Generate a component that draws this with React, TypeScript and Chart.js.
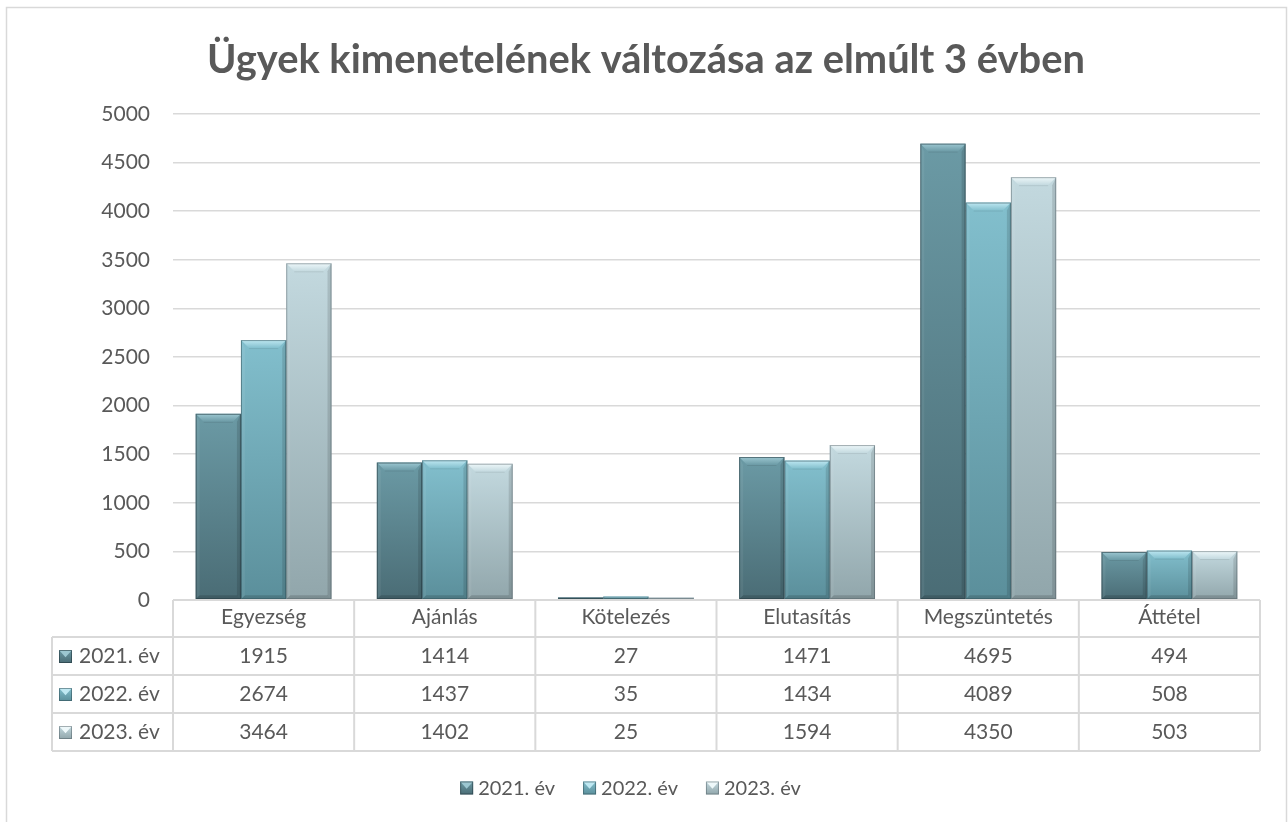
import React, { useEffect, useRef } from 'react';
import { Chart, registerables } from 'chart.js';

Chart.register(...registerables);

const titleText = 'Ügyek kimenetelének változása az elmúlt 3 évben';
const categories = ['Egyezség', 'Ajánlás', 'Kötelezés', 'Elutasítás', 'Megszüntetés', 'Áttétel'];
const seriesLabels = ['2021. év', '2022. év', '2023. év'];
const values2021 = [1915, 1414, 27, 1471, 4695, 494];
const values2022 = [2674, 1437, 35, 1434, 4089, 508];
const values2023 = [3464, 1402, 25, 1594, 4350, 503];
const yMin = 0;
const yMax = 5000;
const yStep = 500;

const seriesValues = [values2021, values2022, values2023];

const FONT = 'Lato, "Open Sans", sans-serif';
const TEXT = '#595959';
const LINE = '#d9d9d9';

const palette = [
  { top: '#6b9aa5', bottom: '#4a6c75', bevel: '#9cc7d1', edge: 'rgba(30,50,56,0.55)' },
  { top: '#82bfcd', bottom: '#5b8f9b', bevel: '#bfe8f2', edge: 'rgba(40,70,78,0.5)' },
  { top: '#c3d9df', bottom: '#91a6ab', bevel: '#eef8fa', edge: 'rgba(70,85,90,0.45)' },
];

function drawIcon(ctx: CanvasRenderingContext2D, x: number, y: number, s: number, p: any) {
  const g = ctx.createLinearGradient(0, y, 0, y + s);
  g.addColorStop(0, p.top);
  g.addColorStop(1, p.bottom);
  ctx.fillStyle = g;
  ctx.fillRect(x, y, s, s);
  ctx.fillStyle = p.bevel;
  ctx.beginPath();
  ctx.moveTo(x, y);
  ctx.lineTo(x + s, y);
  ctx.lineTo(x + s / 2, y + s * 0.55);
  ctx.closePath();
  ctx.fill();
  ctx.strokeStyle = p.edge;
  ctx.lineWidth = 1;
  ctx.strokeRect(x + 0.5, y + 0.5, s - 1, s - 1);
}

const framePlugin = {
  id: 'frameAndTitle',
  beforeDraw(chart: any) {
    const ctx = chart.ctx as CanvasRenderingContext2D;
    ctx.save();
    ctx.fillStyle = '#ffffff';
    ctx.fillRect(0, 0, chart.width, chart.height);
    ctx.strokeStyle = LINE;
    ctx.lineWidth = 1.5;
    ctx.strokeRect(6.5, 7.5, 1280, 840);
    ctx.font = `bold 100px ${FONT}`;
    const w = ctx.measureText(titleText).width;
    const size = (100 * 878) / w;
    ctx.font = `bold ${size.toFixed(2)}px ${FONT}`;
    ctx.fillStyle = TEXT;
    ctx.textAlign = 'center';
    ctx.textBaseline = 'alphabetic';
    ctx.fillText(titleText, 646, 73);
    ctx.restore();
  },
};

const bevelPlugin = {
  id: 'bevel',
  afterDatasetsDraw(chart: any) {
    const ctx = chart.ctx as CanvasRenderingContext2D;
    ctx.save();
    chart.data.datasets.forEach((ds: any, di: number) => {
      const meta = chart.getDatasetMeta(di);
      const p = palette[di];
      meta.data.forEach((el: any) => {
        const { x, y, base, width } = el.getProps(['x', 'y', 'base', 'width'], true);
        const x0 = x - width / 2;
        const x1 = x + width / 2;
        const top = Math.min(y, base);
        const bot = Math.max(y, base);
        const h = bot - top;
        if (h <= 0) return;
        const b = Math.min(8, h / 2, width / 2);
        const gt = ctx.createLinearGradient(0, top, 0, top + b);
        gt.addColorStop(0, p.bevel);
        gt.addColorStop(1, p.top);
        ctx.fillStyle = gt;
        ctx.beginPath();
        ctx.moveTo(x0, top);
        ctx.lineTo(x1, top);
        ctx.lineTo(x1 - b, top + b);
        ctx.lineTo(x0 + b, top + b);
        ctx.closePath();
        ctx.fill();
        const bs = Math.min(4, b);
        ctx.fillStyle = 'rgba(255,255,255,0.06)';
        ctx.beginPath();
        ctx.moveTo(x0, top);
        ctx.lineTo(x0 + bs, top + b);
        ctx.lineTo(x0 + bs, bot - bs);
        ctx.lineTo(x0, bot);
        ctx.closePath();
        ctx.fill();
        ctx.fillStyle = 'rgba(0,0,0,0.12)';
        ctx.beginPath();
        ctx.moveTo(x1, top);
        ctx.lineTo(x1 - bs, top + b);
        ctx.lineTo(x1 - bs, bot - bs);
        ctx.lineTo(x1, bot);
        ctx.closePath();
        ctx.fill();
        ctx.fillStyle = 'rgba(0,0,0,0.15)';
        ctx.beginPath();
        ctx.moveTo(x0, bot);
        ctx.lineTo(x0 + bs, bot - bs);
        ctx.lineTo(x1 - bs, bot - bs);
        ctx.lineTo(x1, bot);
        ctx.closePath();
        ctx.fill();
        ctx.strokeStyle = 'rgba(0,0,0,0.08)';
        ctx.lineWidth = 1;
        ctx.beginPath();
        ctx.moveTo(x0 + b, top + b + 0.5);
        ctx.lineTo(x1 - b, top + b + 0.5);
        ctx.stroke();
        ctx.strokeStyle = p.edge;
        ctx.lineWidth = 1;
        ctx.strokeRect(x0 + 0.5, top + 0.5, width - 1, h - 1);
      });
    });
    ctx.restore();
  },
};

const tablePlugin = {
  id: 'dataTable',
  afterDraw(chart: any) {
    const ctx = chart.ctx as CanvasRenderingContext2D;
    const xs = chart.scales.x;
    const left = chart.chartArea.left;
    const right = chart.chartArea.right;
    const top = chart.chartArea.bottom;
    const n = categories.length;
    const cw = (right - left) / n;
    const headerBottom = top + 37;
    const rowH = 38;
    const tableLeft = 52;
    const bottom = headerBottom + rowH * seriesLabels.length;
    ctx.save();
    ctx.strokeStyle = LINE;
    ctx.lineWidth = 2;
    ctx.beginPath();
    ctx.moveTo(left, top);
    ctx.lineTo(right, top);
    for (let r = 0; r <= seriesLabels.length; r++) {
      const yy = headerBottom + r * rowH;
      ctx.moveTo(tableLeft, yy);
      ctx.lineTo(right, yy);
    }
    for (let i = 0; i <= n; i++) {
      const xx = left + i * cw;
      ctx.moveTo(xx, top);
      ctx.lineTo(xx, bottom);
    }
    ctx.moveTo(tableLeft, headerBottom);
    ctx.lineTo(tableLeft, bottom);
    ctx.stroke();

    ctx.fillStyle = TEXT;
    ctx.font = `21px ${FONT}`;
    ctx.textBaseline = 'middle';
    seriesLabels.forEach((lab, r) => {
      const cy = headerBottom + r * rowH + rowH / 2;
      drawIcon(ctx, 59, cy - 6, 13, palette[r]);
      ctx.fillStyle = TEXT;
      ctx.textAlign = 'left';
      ctx.fillText(lab, 79, cy);
      ctx.textAlign = 'center';
      seriesValues[r].forEach((v, i) => {
        ctx.fillText(String(v), xs.getPixelForValue(i), cy);
      });
    });

    ctx.font = `20px ${FONT}`;
    const iconS = 13;
    const gapIcon = 5;
    const gapItem = 28;
    const widths = seriesLabels.map((l) => ctx.measureText(l).width);
    const total = widths.reduce((a, w) => a + iconS + gapIcon + w, 0) + gapItem * (seriesLabels.length - 1);
    let lx = 630.5 - total / 2;
    const ly = 788;
    seriesLabels.forEach((l, i) => {
      drawIcon(ctx, lx, ly - 6.5, iconS, palette[i]);
      ctx.fillStyle = TEXT;
      ctx.textAlign = 'left';
      ctx.fillText(l, lx + iconS + gapIcon, ly + 1);
      lx += iconS + gapIcon + widths[i] + gapItem;
    });
    ctx.restore();
  },
};

export default function App() {
  const ref = useRef<HTMLCanvasElement | null>(null);
  useEffect(() => {
    if (!ref.current) return;
    const makeBg = (di: number) => (c: any) => {
      const p = palette[di];
      const chart = c.chart;
      if (c.type !== 'data' || !chart.chartArea) return p.top;
      const ys = chart.scales.y;
      const yt = ys.getPixelForValue(c.raw);
      const yb = ys.getPixelForValue(0);
      if (Math.abs(yb - yt) < 1) return p.top;
      const g = chart.ctx.createLinearGradient(0, yt, 0, yb);
      g.addColorStop(0, p.top);
      g.addColorStop(1, p.bottom);
      return g;
    };
    const chart = new Chart(ref.current, {
      type: 'bar',
      data: {
        labels: categories,
        datasets: seriesValues.map((vals, di) => ({
          label: seriesLabels[di],
          data: vals,
          backgroundColor: makeBg(di),
          borderWidth: 0,
          categoryPercentage: 0.75,
          barPercentage: 1.0,
        })),
      },
      options: {
        responsive: false,
        animation: false,
        devicePixelRatio: 1,
        layout: { padding: { top: 114, right: 28, bottom: 0, left: 0 } },
        plugins: {
          legend: { display: false },
          title: { display: false },
          tooltip: { enabled: false },
        },
        scales: {
          x: {
            grid: { display: false },
            border: { display: false },
            ticks: { color: TEXT, font: { family: FONT, size: 21 }, padding: -3, maxRotation: 0 },
            afterFit: (s: any) => {
              s.height = 222;
            },
          },
          y: {
            min: yMin,
            max: yMax,
            ticks: {
              stepSize: yStep,
              color: TEXT,
              font: { family: FONT, size: 21 },
              padding: 23,
              callback: (v: any) => String(v),
            },
            grid: { color: LINE, lineWidth: 1.5, drawTicks: false },
            border: { display: false },
            afterFit: (s: any) => {
              s.width = 173;
            },
          },
        },
      },
      plugins: [framePlugin, bevelPlugin, tablePlugin],
    });
    return () => chart.destroy();
  }, []);
  return (
    <div style={{ position: 'absolute', left: 0, top: 0, width: 1288, height: 822, background: '#fff' }}>
      <canvas ref={ref} width={1288} height={822} style={{ display: 'block', width: 1288, height: 822 }} />
    </div>
  );
}
